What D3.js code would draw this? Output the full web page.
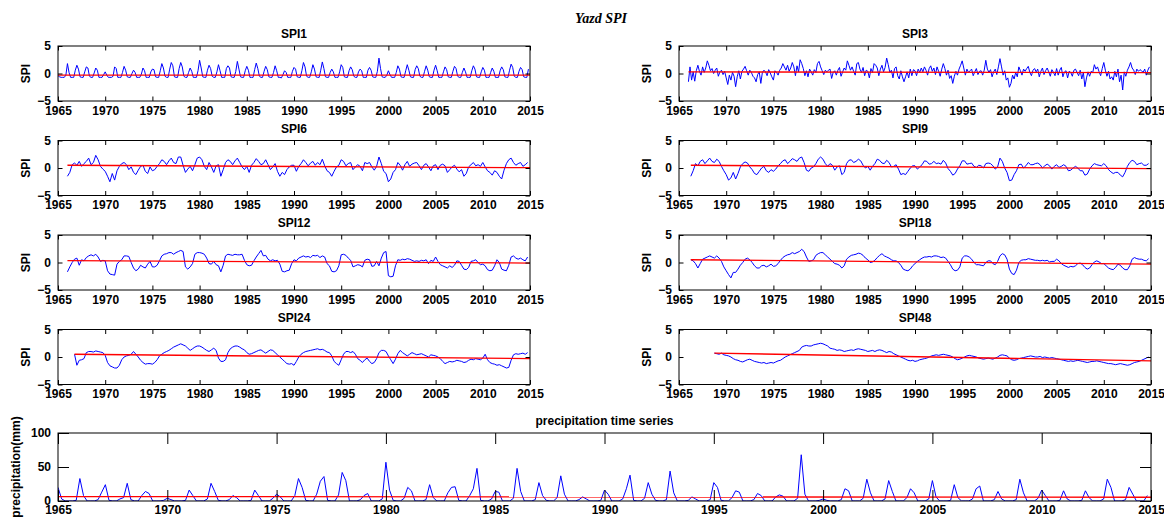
<!DOCTYPE html>
<html><head><meta charset="utf-8">
<script src="https://cdn.jsdelivr.net/npm/d3@7"></script>
<style>
body{margin:0;background:#fff}
text{font-family:"Liberation Sans",Arial,sans-serif;font-weight:bold;fill:#000}
</style>
</head><body>
<svg id="c" width="1164" height="518"></svg>
<script>
const yearTicks = [1965,1970,1975,1980,1985,1990,1995,2000,2005,2010,2015];
const spiTicks = [-5,0,5];
const precipTicks = [0,50,100];

// SPI1, bimonthly samples from 1965
const spi1 = [
-0.4,-0.6,-0.7,-0.7,-0.7,-0.3,
1.8,0.2,-0.7,-0.7,-0.7,0.6,
1.5,0.8,-0.6,-0.7,-0.7,0.3,
1.2,1.0,-0.5,-0.7,-0.7,0.1,
1.0,0.6,-0.7,-0.7,-0.7,-0.2,
0.3,-0.3,-0.7,-0.7,-0.7,-0.5,
1.2,0.9,-0.7,-0.7,-0.7,0.2,
1.3,0.6,-0.6,-0.7,-0.7,0.0,
0.6,0.2,-0.7,-0.7,-0.7,-0.1,
1.0,0.5,-0.7,-0.7,-0.7,0.3,
0.8,0.7,-0.6,-0.7,-0.7,0.5,
1.8,1.0,-0.5,-0.7,-0.7,0.8,
2.0,1.4,-0.6,-0.7,-0.7,0.9,
2.0,1.2,-0.5,-0.7,-0.7,0.2,
1.0,0.4,-0.7,-0.7,-0.7,0.5,
2.4,1.0,-0.6,-0.7,-0.7,0.6,
1.5,0.9,-0.5,-0.7,-0.7,0.3,
1.6,0.5,-0.7,-0.7,-0.7,0.9,
1.4,1.0,-0.6,-0.7,-0.7,0.4,
2.2,0.8,-0.6,-0.7,-0.7,0.5,
1.3,0.6,-0.7,-0.7,-0.7,0.7,
1.9,0.9,-0.5,-0.7,-0.7,0.4,
1.3,0.7,-0.6,-0.7,-0.7,0.2,
1.4,0.5,-0.7,-0.7,-0.8,-0.2,
0.5,0.2,-0.7,-0.7,-0.7,0.4,
1.1,0.8,-0.6,-0.7,-0.7,0.5,
2.0,1.2,-0.5,-0.7,-0.7,0.3,
1.6,0.8,-0.6,-0.7,-0.7,0.6,
2.1,0.9,-0.6,-0.7,-0.7,0.2,
0.8,0.3,-0.7,-0.7,-0.7,0.3,
1.6,1.1,-0.6,-0.7,-0.7,0.5,
1.2,0.7,-0.5,-0.7,-0.7,0.3,
0.8,0.5,-0.7,-0.7,-0.7,0.6,
1.1,0.6,-0.6,-0.7,-0.7,0.4,
2.8,0.9,-0.6,-0.7,-0.7,-0.3,
0.5,-0.2,-0.7,-0.7,-0.7,0.2,
1.4,0.8,-0.6,-0.7,-0.7,0.5,
1.6,0.6,-0.6,-0.7,-0.7,0.7,
1.4,0.9,-0.5,-0.7,-0.7,0.4,
1.4,0.6,-0.6,-0.7,-0.7,0.6,
1.5,0.5,-0.7,-0.7,-0.7,0.3,
1.2,0.7,-0.6,-0.7,-0.7,0.4,
1.3,0.9,-0.5,-0.7,-0.7,0.2,
1.0,0.3,-0.7,-0.7,-0.7,0.5,
1.4,0.8,-0.6,-0.7,-0.7,0.3,
1.1,0.6,-0.7,-0.7,-0.7,0.2,
1.0,0.4,-0.7,-0.7,-0.7,0.5,
1.2,0.7,-0.6,-0.7,-0.7,0.6,
1.7,1.1,-0.5,-0.7,-0.7,0.4,
1.1,0.7,-0.6,-0.7,-0.7,0.8
];

// SPI3, bimonthly from 1966
const spi3 = [
-1.5,1.2,-1.2,0.3,-1.4,0.5,
1.5,0.4,-0.3,1.2,0.2,1.0,
2.3,1.5,0.5,0.9,0.0,0.6,
1.0,-0.5,0.3,0.6,-0.2,0.4,
-0.8,-2.0,-0.3,-1.2,0.2,-0.5,
-2.4,-0.6,0.5,-1.0,0.4,0.8,
1.3,0.5,-0.3,0.6,0.2,-0.5,
-0.8,-1.5,-0.2,0.3,-1.8,0.2,
0.6,0.3,-0.4,0.7,0.1,-0.6,
-1.2,0.5,0.2,-0.3,0.6,1.0,
1.8,1.2,0.6,1.5,0.4,1.0,
2.0,1.2,-0.4,1.4,0.3,2.5,
1.8,0.9,-0.4,0.5,-0.6,0.8,
0.3,-0.3,0.7,0.2,1.8,2.2,
1.2,0.5,-0.2,0.6,0.3,0.6,
0.8,-0.9,0.2,0.5,-0.3,0.6,
1.1,-0.5,0.3,1.0,0.6,2.3,
1.5,0.6,1.2,0.4,-0.3,1.8,
2.0,0.8,0.2,1.1,-0.4,0.6,
0.4,-0.8,0.9,0.2,1.8,1.5,
1.0,-0.4,0.8,1.5,0.3,1.1,
2.8,1.6,0.2,0.6,-0.8,0.9,
1.2,-0.4,-1.0,0.5,-0.6,-1.5,
-0.6,0.3,-0.8,0.8,-0.4,0.7,
0.5,-0.4,0.8,0.2,1.0,0.3,
1.2,0.6,-0.3,0.9,1.4,0.4,
1.0,-0.2,1.2,0.4,-0.5,0.8,
1.8,0.9,-0.3,0.6,-0.9,-0.4,
-1.8,-0.5,0.4,-0.3,0.8,1.5,
2.3,1.0,-0.3,0.8,0.2,0.5,
0.8,-0.4,0.3,0.9,-0.2,0.4,
0.5,-0.3,0.6,2.4,0.8,0.2,
0.7,-0.6,0.3,0.8,-0.2,1.2,
2.7,1.2,-0.3,0.5,-1.2,-0.8,
-2.5,-1.8,-0.3,-1.0,0.2,-0.6,
1.2,0.5,-0.3,0.8,0.4,0.9,
1.3,0.2,-0.4,0.6,0.9,0.3,
0.8,-0.6,0.4,1.0,-0.2,0.5,
1.0,0.3,-0.5,0.7,0.2,-0.4,
0.9,-0.3,0.6,1.1,-0.6,0.3,
0.5,-0.8,0.4,0.2,-0.5,0.6,
0.8,0.2,-0.4,0.6,-1.0,0.2,
-2.4,-0.8,0.3,-0.5,0.4,0.2,
1.6,0.8,1.2,0.3,-0.4,0.9,
2.0,0.6,-0.5,0.4,-1.0,-0.6,
-1.2,0.4,-0.6,0.8,-1.5,-0.3,
-3.0,0.3,-0.5,0.6,1.2,2.0,
1.0,0.6,-0.2,0.8,0.4,0.7,
0.5,0.2,0.8,-0.3,0.6,1.2
];

// SPI6, quarterly from 1966
const spi6 = [
-1.5,-0.8,0.6,0.9, 0.5,1.2,0.3,0.8, 1.2,1.8,0.6,1.0, 2.3,1.5,0.3,-0.2,
-0.6,-1.5,-2.5,-1.0, -2.2,-0.5,0.3,0.8, 1.0,0.6,-0.3,0.2, -0.8,-1.2,-0.4,0.3,
0.5,-0.6,-1.0,0.2, -0.5,-0.3,0.3,0.8, 1.5,1.2,0.6,1.3, 1.8,1.0,0.8,2.0,
2.0,0.5,-0.8,-0.2, 0.3,-0.5,0.6,1.8, 2.0,1.5,0.3,-0.3, 1.0,0.2,-0.8,0.4,
0.6,-1.5,-0.3,1.0, 1.5,1.2,0.6,1.3, 1.8,1.0,0.2,-0.3, 0.3,-0.8,0.5,1.0,
1.7,1.2,0.6,0.8, 1.5,0.6,-0.3,0.2, 0.8,-0.6,-1.5,-0.8, -1.2,-0.3,0.2,0.5,
0.5,-0.6,0.3,0.8, 1.5,1.0,0.4,0.9, 1.2,0.5,1.0,0.6, 1.6,0.4,-0.5,-0.8,
-1.5,-0.6,0.2,0.5, 1.5,1.2,0.4,0.8, 1.0,-0.3,0.2,0.6, 0.3,-0.5,1.0,0.8,
1.0,0.2,-0.4,0.3, 2.0,0.8,-0.6,-1.0, -2.5,-2.0,-0.8,-0.3, 1.0,0.5,-0.4,0.6,
1.2,0.3,0.7,0.9, 1.0,0.4,-0.3,0.5, 0.8,0.2,-0.5,0.4, 0.6,-0.3,0.5,0.7,
0.4,-0.8,-0.3,0.2, 0.5,-0.2,-0.7,-0.3, -1.5,-1.0,0.2,0.6, 1.0,0.4,0.6,0.3,
1.0,0.2,-0.5,-0.8, -1.3,-0.5,-0.8,-1.5, -2.0,-0.4,0.8,1.5, 1.8,1.0,0.5,0.8,
1.0,0.3,0.6,1.0
];

// SPI9, quarterly from 1966.25
const spi9 = [
-1.5,-0.5,0.8,
0.4,1.2,1.5,0.8, 1.3,1.8,1.2,1.0, 1.6,1.2,0.3,-0.5, -1.2,-2.2,-1.8,-0.8,
-2.0,-1.0,0.2,0.8, 1.1,0.9,0.2,-0.3, -1.0,-1.2,-0.6,0.0, 0.3,-0.5,-0.8,-0.3,
-0.6,-0.2,0.4,0.8, 1.3,1.5,0.8,1.2, 1.7,1.5,1.2,1.8, 2.0,1.0,-0.4,-0.6,
0.0,0.2,0.8,1.6, 2.0,1.6,0.8,0.3, 0.8,0.5,-0.4,0.2, 0.4,-1.2,-0.8,0.8,
1.4,1.5,1.0,1.2, 1.6,1.3,0.5,0.0, 0.3,-0.4,0.3,0.8, 1.6,1.4,0.9,0.8,
1.4,1.0,0.2,0.3, 0.6,-0.2,-1.2,-1.0, -1.2,-0.6,0.0,0.4, 0.4,-0.2,0.2,0.6,
1.3,1.2,0.7,0.8, 1.2,0.8,0.9,0.7, 1.4,0.9,-0.1,-0.6, -1.3,-1.0,-0.2,0.4,
1.3,1.3,0.7,0.8, 0.9,0.3,0.1,0.5, 0.4,0.0,0.8,0.9, 0.8,0.4,-0.2,0.2,
1.8,1.2,0.0,-0.8, -2.3,-2.2,-1.2,-0.5, 0.6,0.7,0.0,0.4, 1.0,0.6,0.6,0.8,
0.9,0.6,0.0,0.4, 0.7,0.4,-0.2,0.3, 0.6,0.1,0.3,0.6, 0.3,-0.5,-0.4,0.0,
0.3,0.0,-0.5,-0.5, -1.3,-1.1,-0.2,0.4, 0.8,0.6,0.5,0.4, 0.8,0.4,-0.3,-0.7,
-1.0,-0.8,-0.8,-1.3, -1.6,-0.8,0.3,1.0, 1.4,1.2,0.6,0.8, 0.9,0.5,0.5,0.8
];

// SPI12, quarterly from 1966
const spi12 = [
-1.7,-0.8,0.0,0.6, 0.8,-0.5,0.5,0.3, 0.9,1.2,1.4,1.2, 1.5,1.0,0.2,0.4,
0.3,-1.5,-2.1,-2.2, -2.3,-0.3,0.2,0.5, 1.2,1.2,1.1,0.0, -1.0,-1.5,-1.2,-0.5,
-0.8,-1.0,-0.3,0.2, -0.8,-0.8,-0.5,0.3, 1.2,1.5,1.6,1.8, 1.8,1.5,1.8,2.0,
2.2,2.0,-0.8,-1.2, -0.8,-0.2,1.5,1.8, 1.8,1.7,1.5,0.8, -0.2,-0.3,0.2,-0.4,
-0.6,-1.7,-0.5,1.2, 1.5,1.4,1.3,1.5, 1.4,1.4,1.5,0.4, -0.4,-0.6,-0.5,0.3,
1.0,1.6,2.2,1.2, 1.3,0.6,0.3,0.5, 0.3,0.4,-0.3,-1.6, -1.7,-1.5,-1.4,-0.2,
0.5,0.3,0.8,1.0, 1.2,1.0,1.1,0.9, 1.3,1.2,1.3,0.9, 1.2,1.0,-0.2,-0.6,
-1.6,-1.7,-1.5,-0.6, 1.4,1.5,1.3,0.8, 0.4,-0.8,-0.6,-0.4, -0.5,-0.8,0.4,0.6,
0.5,-0.7,-0.6,0.2, -0.6,0.8,1.8,2.0, -2.4,-2.6,-2.5,-0.6, 0.5,0.4,0.6,0.5,
0.7,0.6,0.4,0.2, 0.3,0.2,0.4,0.3, 0.5,-0.2,0.4,0.2, 1.0,0.2,-0.4,-0.6,
-0.8,-1.0,-0.6,-0.9, -0.5,0.3,0.2,-0.5, -1.2,-1.3,-0.9,0.2, 0.3,0.5,0.0,-0.4,
-0.3,-0.6,-1.3,-1.5, -1.4,-0.6,0.5,0.0, -1.2,-1.4,-1.5,-0.5, 1.0,1.2,0.8,0.6,
0.8,0.5,0.3,1.0
];

// SPI18, quarterly from 1966.25
const spi18 = [
0.5,0.3,-0.2,
-1.0,-0.2,0.6,0.8, 1.0,1.2,1.0,0.8, 1.2,0.8,0.2,-0.8, -1.5,-2.2,-2.8,-1.8,
-1.8,-1.2,-0.5,0.0, 0.6,0.8,0.5,0.0, -0.6,-1.0,-1.0,-0.6, -0.5,-0.8,-0.6,-0.3,
-0.7,-0.6,-0.2,0.4, 0.9,1.2,1.4,1.5, 1.8,1.6,1.8,2.0, 2.4,2.0,1.0,0.2,
0.3,0.5,1.3,1.6, 1.8,1.8,1.4,1.0, 0.6,0.2,-0.2,-0.3, -0.5,-1.0,-0.6,0.6,
1.0,1.3,1.4,1.5, 1.7,1.6,1.3,0.8, 0.5,0.0,0.1,0.4, 0.9,1.3,1.6,1.2,
1.0,0.8,0.5,0.3, 0.3,0.0,-0.5,-1.2, -1.4,-1.5,-1.2,-0.6, -0.2,0.2,0.5,0.8,
1.0,1.0,1.1,1.0, 1.2,1.2,1.1,0.9, 1.0,0.8,0.2,-0.4, -1.2,-1.5,-1.4,-0.8,
0.8,1.2,1.2,1.0, 0.6,0.0,-0.4,-0.4, -0.5,-0.6,0.0,0.3, 0.3,-0.2,-0.4,0.2,
1.2,1.6,1.4,0.6, -1.2,-2.0,-2.2,-1.4, 0.0,0.4,0.5,0.5, 0.7,0.6,0.5,0.4,
0.4,0.3,0.4,0.3, 0.4,0.1,0.2,0.2, 0.6,0.3,-0.2,-0.5, -0.7,-0.9,-0.7,-0.8,
-0.6,-0.2,-0.1,-0.4, -0.9,-1.2,-1.0,-0.4, 0.1,0.3,0.1,-0.2, -0.2,-0.6,-1.0,-1.2,
-1.3,-0.9,-0.3,-0.5, -1.0,-1.3,-1.3,-0.6, 0.6,0.9,0.7,0.6, 0.6,0.4,0.3,0.7
];

// SPI24, quarterly from 1966.75
const spi24 = [
0.5,
-1.5,-0.6,-0.5,-0.3, 0.8,1.0,1.0,0.9, 1.1,1.0,0.9,0.8, 0.3,-1.0,-1.6,-1.8,
-2.0,-2.0,-1.5,-0.5, 0.0,0.2,0.3,0.5, 1.0,0.5,0.0,-0.6, -1.0,-1.3,-1.2,-1.2,
-1.3,-1.0,-0.5,0.2, 0.5,0.8,1.0,1.2, 1.5,1.8,2.0,2.2, 2.4,2.2,2.0,1.6,
1.2,1.5,1.8,2.0, 2.0,1.8,1.5,1.2, 1.0,1.3,1.6,1.2, -0.2,-0.8,-0.8,-0.5,
0.8,1.5,1.8,2.0, 2.0,1.8,1.5,1.3, 0.8,0.5,0.6,0.8, 1.0,1.2,1.3,1.0,
0.7,1.0,1.3,1.2, 0.8,0.4,0.0,-0.4, -0.8,-1.2,-1.3,-1.2, -1.5,-0.8,0.0,0.5,
0.8,1.0,1.1,1.2, 1.3,1.4,1.5,1.3, 1.4,1.2,0.9,0.8, 0.2,-0.8,-1.2,-1.5,
-0.5,0.5,1.0,1.0, 0.8,1.0,0.5,-0.3, -0.6,-1.0,-0.5,-0.2, -0.8,-1.2,-1.0,-0.3,
0.8,1.2,1.2,1.0, 0.2,-0.5,-1.2,-0.4, 0.6,1.2,0.8,0.5, 0.2,0.5,0.8,0.6,
0.4,0.5,0.6,0.4, 0.2,0.0,0.4,0.3, 0.2,0.0,-0.3,-0.8, -1.2,-1.0,-0.8,-0.9,
-0.8,-0.6,-0.7,-0.8, -1.0,-0.9,-0.6,-0.4, -0.5,-0.3,-0.4,-0.5, -0.2,0.5,-0.5,-1.0,
-1.2,-1.3,-1.5,-1.4, -1.6,-1.8,-2.0,-1.9, -0.6,0.4,0.6,0.5, 0.6,0.7,0.5,0.8
];

// SPI48, quarterly from 1968.75
const spi48 = [
0.7,
0.6,0.5,0.7,0.4, 0.3,0.2,0.0,-0.3, -0.5,-0.6,-0.8,-0.9, -0.7,-0.5,-0.4,-0.6,
-0.8,-0.9,-1.0,-1.1, -1.0,-1.2,-1.1,-1.0, -1.1,-0.9,-0.7,-0.6, -0.3,0.0,0.2,0.4,
0.6,0.8,1.0,1.2, 1.8,2.0,2.1,2.0, 2.0,2.2,2.3,2.4, 2.5,2.4,2.2,2.0,
1.6,1.5,1.4,1.2, 1.3,1.2,1.0,1.1, 1.2,1.3,1.2,1.4, 1.5,1.4,1.3,1.2,
1.0,1.1,1.2,1.0, 1.2,1.3,1.2,1.0, 0.8,1.0,0.9,0.6, 0.4,0.2,0.0,-0.2,
-0.4,-0.6,-0.7,-0.6, -0.8,-0.7,-0.5,-0.4, -0.3,-0.2,0.0,0.2, 0.3,0.4,0.3,0.4,
0.5,0.4,0.3,0.2, 0.0,-0.3,-0.5,-0.4, -0.2,0.0,0.2,0.3, 0.2,0.1,0.0,-0.2,
-0.3,-0.4,-0.3,-0.2, -0.3,-0.4,-0.2,0.0, 0.3,0.4,0.3,0.2, -0.2,-0.5,-0.6,-0.5,
-0.3,-0.2,-0.1,0.0, 0.1,0.2,0.1,0.0, 0.0,0.1,-0.1,0.0, -0.1,-0.2,-0.1,-0.2,
-0.3,-0.4,-0.5,-0.6, -0.7,-0.8,-0.7,-0.8, -0.7,-0.6,-0.7,-0.8, -0.9,-1.0,-0.9,-0.8,
-0.8,-0.7,-0.8,-0.9, -1.0,-1.1,-1.2,-1.2, -1.3,-1.4,-1.3,-1.2, -1.3,-1.4,-1.5,-1.4,
-1.2,-1.0,-0.9,-0.8, -0.6,-0.4,-0.2,0.0
];

// monthly precipitation (mm), bimonthly samples from 1965
const precip = [
20,3,0,0,0,1, 33,8,0,0,0,2, 13,24,1,0,0,3, 5,26,2,0,0,8, 14,11,0,0,0,1,
4,2,0,0,0,1, 16,8,0,0,0,3, 26,14,1,0,0,2, 8,5,0,0,0,1, 16,8,0,0,0,4,
10,6,0,0,0,8, 33,20,1,0,0,10, 29,36,1,0,0,9, 42,30,0,0,0,2, 8,11,0,0,0,3,
57,16,1,0,0,4, 20,15,0,0,0,2, 24,5,0,0,0,12, 20,21,1,0,0,8, 18,48,1,0,0,3,
14,13,0,0,0,4, 48,14,0,0,0,2, 27,8,1,0,0,5, 37,10,0,0,0,2, 6,3,0,0,0,1,
16,10,0,0,0,3, 18,38,1,0,0,4, 27,10,1,0,0,2, 44,12,0,0,0,1, 6,3,0,0,0,2,
27,20,1,0,0,5, 15,13,0,0,0,2, 11,8,0,0,0,6, 9,7,0,0,0,4, 68,10,0,0,0,1,
3,1,0,0,0,2, 18,15,0,0,0,4, 32,12,0,0,0,3, 30,14,0,0,0,5, 18,12,0,0,0,3,
30,6,0,0,0,1, 24,5,0,0,0,3, 18,22,0,0,0,2, 14,3,0,0,0,2, 32,12,0,0,0,4,
16,8,0,0,0,1, 15,3,0,0,0,1, 15,5,0,0,0,3, 32,20,0,0,0,2, 20,10,0,0,0,8
];

// series meta: names, first year, samples per year, trend (red) start/end
const names     = ["SPI1","SPI3","SPI6","SPI9","SPI12","SPI18","SPI24","SPI48"];
const seriesSet = [spi1, spi3, spi6, spi9, spi12, spi18, spi24, spi48];
const firstYear = [1965, 1966, 1966, 1966.25, 1966, 1966.25, 1966.75, 1968.75];
const perYear   = [6, 6, 4, 4, 4, 4, 4, 4];
const trendA    = [-0.3, 0.3, 0.5, 0.5, 0.35, 0.5, 0.5, 0.7];
const trendB    = [-0.3, 0.15, 0.05, -0.1, -0.1, -0.3, -0.3, -0.7];
const precipTrend = [6.5, 5.5];

const svg = d3.select("#c");
const colX = [58, 679], W = 472, rowTop = [46, 140.5, 235, 329.5], H = 55;

function panel(opt){
  const g = svg.append("g").attr("transform", `translate(${opt.x},${opt.y})`);
  const x = d3.scaleLinear().domain([1965, 2015]).range([0, opt.w]);
  const y = d3.scaleLinear().domain(opt.yd).range([opt.h, 0]);
  const id = "clip" + Math.round(opt.x) + "_" + Math.round(opt.y);
  g.append("clipPath").attr("id", id).append("rect").attr("width", opt.w).attr("height", opt.h);
  const pts = opt.data.map((v, i) => [opt.start + i / opt.ppy, v]);
  const line = d3.line().x(d => x(d[0])).y(d => y(d[1]));
  const pg = g.append("g").attr("clip-path", `url(#${id})`);
  pg.append("path").attr("d", line(pts)).attr("fill", "none").attr("stroke", "#0000ff").attr("stroke-width", 1);
  pg.append("path").attr("d", line([[opt.start, opt.tr[0]], [2015, opt.tr[1]]]))
    .attr("fill", "none").attr("stroke", "#ff0000").attr("stroke-width", 1.3);
  const tl = opt.tick;
  const ax = g.append("g").attr("transform", `translate(0,${opt.h})`)
    .call(d3.axisBottom(x).tickValues(yearTicks).tickFormat(d3.format("d")).tickSize(-tl).tickPadding(opt.xpad));
  ax.selectAll("text").style("font-size", "12px");
  g.append("g").call(d3.axisTop(x).tickValues(yearTicks).tickSize(-tl).tickFormat(""));
  const ay = g.append("g").call(d3.axisLeft(y).tickValues(opt.yt).tickSize(-tl).tickPadding(7));
  ay.selectAll("text").style("font-size", "12px");
  g.append("g").attr("transform", `translate(${opt.w},0)`).call(d3.axisRight(y).tickValues(opt.yt).tickSize(-tl).tickFormat(""));
  g.selectAll(".domain").remove();
  g.selectAll(".tick line").attr("stroke", "#000");
  g.append("rect").attr("width", opt.w).attr("height", opt.h).attr("fill", "none").attr("stroke", "#000").attr("stroke-width", 1);
  g.append("text").attr("x", opt.w / 2).attr("y", -8).attr("text-anchor", "middle").style("font-size", "12px").text(opt.title);
  g.append("text").attr("transform", `translate(${opt.lx},${opt.h / 2}) rotate(-90)`)
    .attr("text-anchor", "middle").attr("dy", "0.35em").style("font-size", opt.lfs).text(opt.ylabel);
}

names.forEach((n, i) => {
  const col = i % 2, row = Math.floor(i / 2);
  panel({x: colX[col], y: rowTop[row], w: W, h: H, yd: [-5, 5], yt: spiTicks,
    data: seriesSet[i], start: firstYear[i], ppy: perYear[i], tr: [trendA[i], trendB[i]],
    title: n, ylabel: "SPI", lx: -32, lfs: "12px", tick: 4.5, xpad: 5});
});

panel({x: 58, y: 433, w: 1093, h: 68, yd: [0, 100], yt: precipTicks,
  data: precip, start: 1965, ppy: 6, tr: precipTrend,
  title: "precipitation time series", ylabel: "precipitation(mm)", lx: -42, lfs: "12px", tick: 11, xpad: 4});

svg.append("text").attr("x", 601).attr("y", 23).attr("text-anchor", "middle")
  .style("font-family", "'Liberation Serif','Times New Roman',serif").style("font-style", "italic")
  .style("font-size", "14px").text("Yazd SPI");
</script>
</body></html>
